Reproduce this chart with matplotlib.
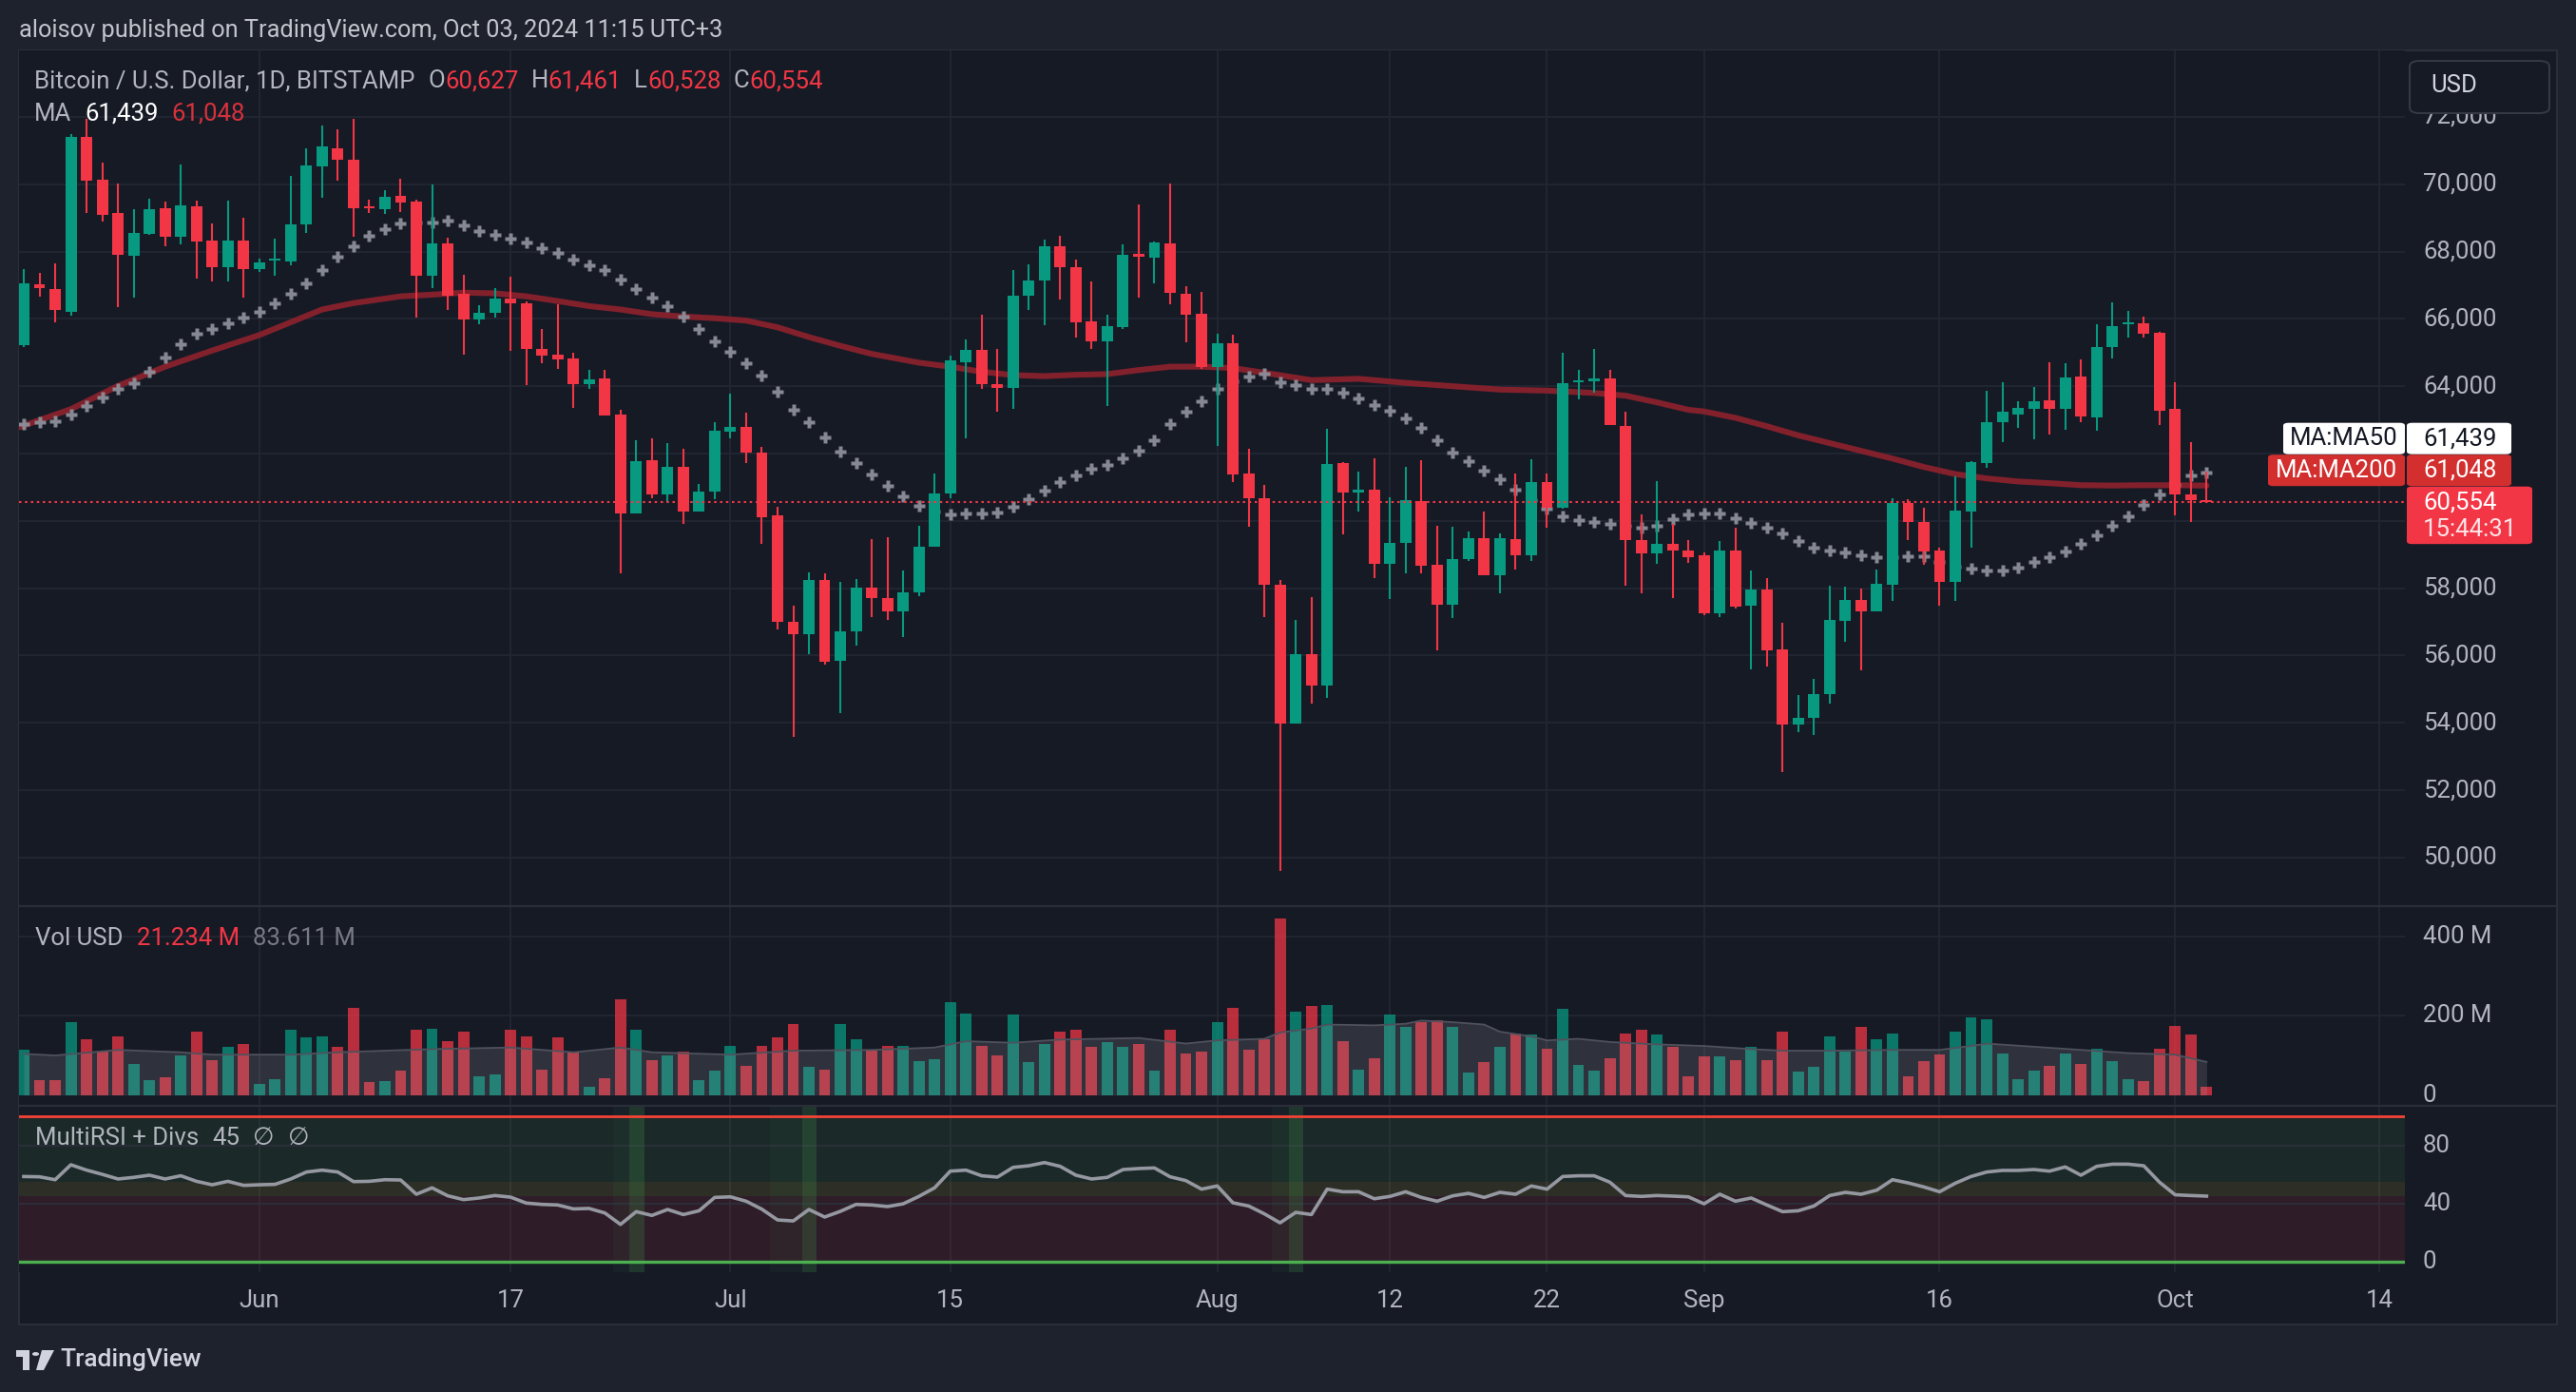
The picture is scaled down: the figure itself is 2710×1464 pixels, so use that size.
import matplotlib.pyplot as plt
import numpy as np
import pandas as pd
from matplotlib.patches import Rectangle, FancyBboxPatch, Polygon, Circle
from matplotlib.transforms import blended_transform_factory

W, H = 2710, 1464
BG = '#161a25'
OUTER = '#1e222d'
GRID = '#232733'
TXT = '#b2b5be'
UP = '#089981'
DOWN = '#f23645'
MA200_COL = '#82212c'

start_date = '2024-05-17'

# daily OHLC, BTC/USD Bitstamp, 17 May -> 3 Oct 2024
open_ = [65230, 67030, 66900, 66220, 71420, 70140, 69140, 67880, 68530, 69280,
         68450, 69340, 68320, 67540, 68320, 67490, 67730, 67720, 68800, 70520,
         71080, 70740, 69340, 69270, 69660, 69480, 67290, 68250, 66750, 65970,
         66170, 66600, 66460, 65120, 64930, 64830, 64070, 64220, 63150, 60230,
         61800, 60780, 61600, 60290, 60870, 62660, 62790, 62020, 60160, 57010,
         56620, 58250, 55830, 56720, 58020, 57710, 57310, 57870, 59230, 60810,
         64720, 65080, 64070, 63950, 66680, 67140, 68160, 67540, 65930, 65330,
         65750, 67930, 67810, 68250, 66750, 66150, 64570, 65270, 61400, 60660,
         58110, 53990, 56030, 55110, 61720, 60840, 60920, 58710, 59340, 60580,
         58700, 57520, 58870, 59480, 58390, 59460, 58990, 61150, 60400, 64110,
         64150, 64230, 62820, 59420, 59020, 59330, 59110, 58970, 57260, 59120,
         57480, 57960, 56180, 53940, 54140, 54860, 57040, 57660, 57310, 58110,
         60530, 59980, 59120, 58200, 60280, 61720, 62930, 63170, 63330, 63580,
         63330, 64290, 63080, 65150, 65830, 65860, 65590, 63320, 60790, 60627]
high = [67480, 67380, 67640, 71480, 71950, 70640, 70030, 69260, 69570, 69480,
        70580, 69510, 68840, 69510, 69000, 67790, 68390, 70250, 71070, 71740,
        71630, 71930, 69550, 69820, 70160, 69550, 69990, 68410, 67310, 66410,
        66910, 67250, 66530, 65700, 66430, 64990, 64490, 64490, 63300, 62400,
        62450, 62310, 62140, 61100, 62930, 63780, 63220, 62190, 60420, 57480,
        58470, 58440, 58180, 58270, 59460, 59510, 58530, 59850, 61400, 64910,
        65390, 66130, 65110, 67450, 67620, 68360, 68460, 67760, 67110, 66130,
        68210, 69390, 68300, 70030, 66970, 66800, 65560, 65540, 62140, 61070,
        58250, 57060, 57730, 62740, 61750, 61460, 61860, 60710, 61610, 61810,
        59850, 59830, 59680, 60280, 59630, 61400, 61820, 61410, 65000, 64490,
        65110, 64490, 63250, 60180, 61180, 59910, 59430, 59050, 59400, 59800,
        58530, 58300, 56970, 54830, 55310, 58070, 58050, 57980, 58550, 60670,
        60630, 60390, 59210, 61320, 61780, 63860, 64120, 63560, 63970, 64720,
        64680, 64790, 65840, 66490, 66240, 66080, 65620, 64110, 62330, 61461]
low = [65150, 66670, 65910, 66090, 69160, 68880, 66360, 66620, 68500, 68150,
       68220, 67200, 67100, 67100, 66620, 67390, 67290, 67600, 68560, 69610,
       70110, 68450, 69160, 69130, 69180, 66030, 66910, 66260, 64940, 65830,
       66030, 65040, 64040, 64670, 64510, 63350, 63930, 63130, 58450, 60230,
       60680, 60570, 59910, 60290, 60630, 62460, 61730, 59330, 56760, 53580,
       56050, 55740, 54300, 56290, 57140, 57060, 56550, 57770, 59230, 60680,
       62460, 63910, 63230, 63320, 66270, 65810, 66570, 65450, 65110, 63420,
       65700, 66630, 67050, 66430, 65310, 64510, 62220, 61160, 59820, 57150,
       49590, 53990, 54570, 54740, 59590, 60290, 58300, 57690, 58450, 58450,
       56140, 57100, 58820, 58390, 57850, 58560, 58820, 59790, 60350, 63600,
       63820, 62840, 58080, 57850, 58710, 57720, 58760, 57210, 57130, 57400,
       55600, 55660, 52550, 53730, 53640, 54580, 56420, 55560, 57310, 57630,
       59430, 58700, 57480, 57630, 59190, 61590, 62350, 62770, 62410, 62570,
       62720, 62930, 62690, 64830, 65460, 65450, 62860, 60160, 59980, 60528]
close = [67050, 66910, 66260, 71400, 70110, 69100, 67910, 68550, 69260, 68450,
         69370, 68300, 67540, 68320, 67470, 67690, 67760, 68800, 70560, 71120,
         70740, 69290, 69290, 69620, 69470, 67290, 68250, 66700, 65970, 66170,
         66610, 66460, 65120, 64920, 64800, 64070, 64200, 63130, 60230, 61780,
         60780, 61600, 60290, 60870, 62670, 62790, 62020, 60110, 57010, 56620,
         58250, 55800, 56720, 58020, 57710, 57310, 57870, 59230, 60810, 64770,
         65080, 64070, 63950, 66680, 67140, 68160, 67540, 65900, 65330, 65790,
         67910, 67860, 68270, 66760, 66130, 64570, 65270, 61390, 60660, 58110,
         53990, 56030, 55110, 61690, 60830, 60920, 58710, 59340, 60610, 58680,
         57520, 58870, 59480, 58390, 59480, 58990, 61150, 60400, 64090, 64150,
         64230, 62840, 59420, 59020, 59330, 59110, 58930, 57260, 59120, 57450,
         57960, 56140, 53940, 54140, 54860, 57060, 57660, 57310, 58130, 60530,
         59980, 59090, 58200, 60300, 61740, 62930, 63230, 63350, 63560, 63320,
         64260, 63100, 65150, 65780, 65860, 65560, 63280, 60790, 60610, 60554]

# MA50 (white crosses), one value per day
ma50 = [62875, 62938, 62963, 63165, 63405, 63657, 63909, 64098, 64439, 64855,
        65246, 65548, 65712, 65876, 66040, 66217, 66469, 66746, 67062, 67465,
        67856, 68159, 68474, 68676, 68827, 68865, 68877, 68915, 68789, 68613,
        68499, 68386, 68260, 68108, 67970, 67768, 67592, 67453, 67163, 66885,
        66633, 66381, 66078, 65712, 65334, 65031, 64691, 64325, 63846, 63304,
        62938, 62484, 62055, 61728, 61387, 61047, 60719, 60454, 60290, 60202,
        60227, 60227, 60252, 60429, 60656, 60908, 61160, 61362, 61551, 61665,
        61866, 62093, 62396, 62862, 63253, 63556, 63909, 64136, 64300, 64363,
        64124, 64047, 63924, 63909, 63802, 63649, 63449, 63281, 63051, 62775,
        62407, 62039, 61763, 61502, 61242, 60935, 60629, 60353, 60123, 60031,
        59969, 59923, 59862, 59800, 59850, 60046, 60184, 60227, 60214, 60088,
        59937, 59786, 59634, 59407, 59206, 59130, 59054, 58966, 58928, 58928,
        58953, 58953, 58777, 58651, 58588, 58525, 58525, 58613, 58789, 58928,
        59092, 59306, 59571, 59849, 60139, 60479, 60782, 61072, 61337, 61439]

# MA200 (red line), read at these bar indices
ma200_idx = [-0.3, 3, 6, 9, 12, 15, 17, 19, 21, 24, 26, 28, 30, 32, 34, 36, 38, 40,
             42, 44, 46, 48, 50, 52, 54, 57, 59, 61, 63, 65, 67, 69, 71, 73, 75, 77,
             79, 82, 85, 88, 91, 94, 97, 100, 102, 104, 106, 107, 109, 111, 113,
             115, 117, 119, 121, 123, 125, 127, 129, 131, 133, 135, 137, 139]
ma200 = [62780, 63320, 64010, 64580, 65060, 65520, 65900, 66280, 66470, 66670,
         66720, 66780, 66760, 66670, 66530, 66380, 66280, 66140, 66070, 66020,
         65950, 65750, 65460, 65200, 64960, 64700, 64580, 64430, 64330, 64300,
         64340, 64360, 64480, 64580, 64580, 64540, 64400, 64180, 64220, 64100,
         64000, 63900, 63870, 63800, 63720, 63520, 63300, 63250, 63060, 62810,
         62540, 62310, 62080, 61850, 61600, 61390, 61260, 61170, 61120, 61060,
         61050, 61060, 61060, 61048]

# volume, millions USD
volume = [114, 37, 37, 185, 140, 109, 149, 78, 37, 44,
          99, 159, 87, 121, 130, 28, 40, 166, 145, 147,
          121, 221, 33, 35, 61, 166, 168, 135, 159, 47,
          52, 164, 147, 64, 145, 109, 21, 42, 242, 164,
          87, 99, 109, 37, 61, 123, 73, 125, 145, 180,
          71, 64, 180, 140, 111, 123, 125, 85, 90, 235,
          206, 123, 99, 204, 83, 128, 161, 164, 121, 133,
          121, 130, 61, 164, 104, 109, 185, 221, 114, 142,
          445, 211, 225, 228, 137, 64, 92, 204, 173, 183,
          190, 173, 56, 83, 121, 156, 152, 118, 218, 75,
          61, 94, 156, 166, 152, 121, 47, 97, 97, 87,
          121, 87, 161, 59, 71, 149, 109, 173, 140, 156,
          47, 85, 102, 161, 197, 192, 106, 40, 61, 73,
          104, 78, 116, 85, 40, 35, 116, 175, 152, 21.234]

vol_ma_idx = [0, 2, 6, 10, 12, 17, 20, 26, 31, 35, 38, 40, 45, 49, 54, 58, 60, 63,
              66, 71, 74, 76, 79, 80, 82, 83, 86, 88, 89, 91, 93, 94, 96, 97, 99,
              101, 104, 107, 110, 112, 115, 119, 122, 124, 125, 128, 131, 134,
              137, 139]
vol_ma = [104, 100, 114, 108, 102, 102, 108, 116, 120, 108, 120, 108, 102, 112,
          114, 120, 136, 132, 140, 144, 130, 138, 142, 158, 168, 178, 176, 180,
          188, 184, 178, 160, 148, 138, 142, 134, 128, 124, 116, 112, 112, 114,
          114, 124, 130, 122, 114, 106, 102, 83.611]

rsi = [58.5, 58.3, 56.3, 66.6, 62.9, 60.0, 56.8, 57.9, 59.4, 56.8,
       59.0, 55.2, 52.8, 55.2, 52.4, 52.8, 53.1, 56.8, 61.6, 62.9,
       61.6, 55.0, 55.2, 56.3, 56.1, 46.3, 50.7, 45.2, 42.6, 43.7,
       45.4, 44.3, 40.2, 39.3, 38.9, 36.2, 36.5, 33.4, 25.5, 34.3,
       31.7, 35.8, 32.3, 34.9, 44.1, 44.5, 41.5, 36.0, 28.6, 27.9,
       35.8, 30.6, 34.5, 39.3, 38.9, 37.8, 39.7, 44.8, 50.7, 62.2,
       62.9, 59.0, 58.1, 64.8, 65.9, 68.1, 65.5, 59.4, 56.8, 57.9,
       63.3, 64.0, 64.4, 58.3, 55.7, 49.8, 52.0, 40.4, 38.2, 32.8,
       26.6, 33.8, 32.3, 49.8, 48.0, 48.0, 43.2, 44.8, 48.0, 44.1,
       41.5, 45.2, 46.9, 44.1, 47.6, 46.3, 52.0, 49.8, 58.5, 59.0,
       59.0, 54.6, 45.4, 44.8, 45.4, 45.0, 44.5, 39.7, 46.3, 41.5,
       43.7, 38.9, 34.3, 34.9, 38.2, 45.4, 47.6, 46.3, 49.1, 56.3,
       54.1, 51.3, 48.0, 53.9, 58.5, 61.6, 62.7, 62.7, 63.3, 62.2,
       65.1, 59.4, 65.5, 67.0, 67.0, 65.9, 54.6, 45.9, 45.4, 45.0]

# bullish divergence signals on the RSI pane: signal bar and bars covered
div_idx = [39, 50, 81]
div_len = [2, 3, 2]

tick_dates = ['2024-06-01', '2024-06-17', '2024-07-01', '2024-07-15', '2024-08-01',
              '2024-08-12', '2024-08-22', '2024-09-01', '2024-09-16', '2024-10-01',
              '2024-10-14']
price_ticks = [50000, 52000, 54000, 56000, 58000, 60000, 62000, 64000, 66000,
               68000, 70000, 72000]
vol_ticks = [0, 200, 400]
rsi_ticks = [0, 40, 80]

last_price = 60554
ma50_last = 61439
ma200_last = 61048
countdown = '15:44:31'


def rect(x0, y0, x1, y1):
    return [x0 / W, 1 - y1 / H, (x1 - x0) / W, (y1 - y0) / H]


def fy(y):
    return 1 - y / H


def clean(ax):
    ax.set_facecolor(BG)
    for s in ax.spines.values():
        s.set_visible(False)
    ax.tick_params(left=False, bottom=False, labelleft=False, labelbottom=False)


def main():
    plt.rcParams['font.family'] = ['Roboto', 'DejaVu Sans']
    fig = plt.figure(figsize=(W / 100, H / 100), dpi=100, facecolor=OUTER)
    rend = fig.canvas.get_renderer()

    def seq_text(x, y, parts, size):
        # parts: (text, colour, gap before in px)
        for s, c, g in parts:
            x += g
            t = fig.text(x / W, fy(y), s, color=c, fontsize=size, va='center', ha='left')
            x += t.get_window_extent(renderer=rend).width
        return x

    # chart panel
    fig.add_artist(Rectangle((20 / W, fy(1393)), 2670 / W, 1340 / H, transform=fig.transFigure,
                             facecolor=BG, edgecolor='#2a2e39', lw=1.5, zorder=0))

    ax_p = fig.add_axes(rect(20, 53, 2530, 953))
    ax_v = fig.add_axes(rect(20, 953, 2530, 1163), sharex=ax_p)
    ax_r = fig.add_axes(rect(20, 1163, 2530, 1338), sharex=ax_p)
    for ax in (ax_p, ax_v, ax_r):
        clean(ax)

    n = len(close)
    x = np.arange(n)
    o, h, l, c = map(np.array, (open_, high, low, close))
    up = c >= o
    col = np.where(up, UP, DOWN)

    ax_p.set_xlim(-0.303, 151.63)
    ax_p.set_ylim(48554, 73977)
    ax_v.set_ylim(-27.1, 477)
    ax_r.set_ylim(-7.4, 107.2)

    t0 = pd.Timestamp(start_date)
    tick_idx = [(pd.Timestamp(d) - t0).days for d in tick_dates]

    # grid
    for ax in (ax_p, ax_v, ax_r):
        for ti in tick_idx:
            ax.axvline(ti, color=GRID, lw=1.3, zorder=0)
    for p in price_ticks:
        ax_p.axhline(p, color=GRID, lw=1.3, zorder=0)
    for v in vol_ticks[1:]:
        ax_v.axhline(v, color=GRID, lw=1.3, zorder=0)

    # price pane
    ax_p.plot(ma200_idx, ma200, color=MA200_COL, lw=4.4, zorder=1, solid_capstyle='round')
    ax_p.plot(x, ma50, ls='none', marker='P', ms=8.8, color='#8d909a', mec='none',
              alpha=0.95, zorder=2)
    ax_p.vlines(x, l, h, colors=col, lw=1.5, zorder=3)
    body_lo = np.minimum(o, c)
    body_h = np.maximum(np.abs(c - o), 55)
    ax_p.bar(x, body_h, bottom=body_lo, width=0.72, color=col, lw=0, zorder=4)
    ax_p.axhline(last_price, color=DOWN, lw=1.5, ls=(0, (1.2, 1.8)), zorder=5)

    # volume pane
    ax_v.bar(x, volume, width=0.72, color=col, alpha=0.74, lw=0, zorder=2)
    ax_v.fill_between(vol_ma_idx, 0, vol_ma, color='#b2b5be', alpha=0.16, lw=0, zorder=3)
    ax_v.plot(vol_ma_idx, vol_ma, color='#4f525d', lw=1.3, zorder=3)

    # rsi pane
    ax_r.axhspan(55, 100, color='#4caf50', alpha=0.10, lw=0, zorder=0)
    ax_r.axhspan(45, 55, color='#ffeb3b', alpha=0.10, lw=0, zorder=0)
    ax_r.axhspan(0, 45, color='#f23645', alpha=0.11, lw=0, zorder=0)
    for v in rsi_ticks[1:]:
        ax_r.axhline(v, color='#2b2f3a', lw=1.3, zorder=1)
    for di, dl in zip(div_idx, div_len):
        ax_r.axvspan(di - dl + 0.5, di + 0.5, color='#4caf50', alpha=0.05, lw=0, zorder=1)
        ax_r.axvspan(di - 0.45, di + 0.5, color='#4caf50', alpha=0.16, lw=0, zorder=1)
    ax_r.axhline(100, color='#f44336', lw=2, zorder=2)
    ax_r.axhline(0, color='#4caf50', lw=2.4, zorder=2)
    ax_r.plot(x, rsi, color='#9598a1', lw=2.6, zorder=3, solid_joinstyle='round')

    # pane dividers
    for yy in (953, 1163):
        fig.add_artist(plt.Line2D([20 / W, 2690 / W], [fy(yy), fy(yy)], color='#2a2e39', lw=1.6))

    # price-scale labels (stacked above the last price)
    yp = H - ax_p.transData.transform((0, last_price))[1]
    top_p = yp - 16.5
    box_top, box_bot = top_p - 67, top_p + 60.5

    # right scales; price ticks hidden behind the value labels are not drawn
    lab_x = (2549 - 20) / 2510
    for ax, ticks, fmt in ((ax_p, price_ticks, lambda v: f'{v:,}'),
                           (ax_v, vol_ticks, lambda v: '0' if v == 0 else f'{v} M'),
                           (ax_r, rsi_ticks, lambda v: f'{v}')):
        tr = blended_transform_factory(ax.transAxes, ax.transData)
        for v in ticks:
            if ax is ax_p:
                ty = H - ax.transData.transform((0, v))[1]
                if box_top - 10 < ty < box_bot + 10:
                    continue
            ax.text(lab_x, v, fmt(v), transform=tr, color=TXT, fontsize=18.5,
                    va='center', ha='left', clip_on=False, zorder=1)

    # x axis labels
    for ti, d in zip(tick_idx, tick_dates):
        ts = pd.Timestamp(d)
        lab = ts.strftime('%b') if ts.day == 1 else str(ts.day)
        px = ax_p.transData.transform((ti, 0))[0]
        fig.text(px / W, fy(1368), lab, color=TXT, fontsize=18.5, ha='center', va='center')

    boxes = [
        (2532, top_p, 2664, box_bot, DOWN),
        (2532, top_p - 33.5, 2642, top_p - 0.5, '#d32f2f'),
        (2386, top_p - 33.5, 2530, top_p - 0.5, '#d32f2f'),
        (2532, box_top, 2642, top_p - 34, '#ffffff'),
        (2402, box_top, 2530, top_p - 34, '#ffffff'),
    ]
    for x0, y0, x1, y1, fc in boxes:
        fig.add_artist(FancyBboxPatch((x0 / W, fy(y1)), (x1 - x0) / W, (y1 - y0) / H,
                                      boxstyle='round,pad=0,rounding_size=0.002',
                                      transform=fig.transFigure, facecolor=fc, lw=0, zorder=6))
    fs = 18.5
    fig.text(2549 / W, fy(yp), f'{last_price:,}', color='white', fontsize=fs, va='center', zorder=7)
    fig.text(2549 / W, fy(yp + 29), countdown, color='#ffe3e6', fontsize=fs, va='center', zorder=7)
    fig.text(2549 / W, fy(top_p - 17), f'{ma200_last:,}', color='white', fontsize=fs, va='center', zorder=7)
    fig.text(2458 / W, fy(top_p - 17), 'MA:MA200', color='white', fontsize=fs, va='center', ha='center', zorder=7)
    fig.text(2549 / W, fy(top_p - 50.5), f'{ma50_last:,}', color='#131722', fontsize=fs, va='center', zorder=7)
    fig.text(2466 / W, fy(top_p - 50.5), 'MA:MA50', color='#131722', fontsize=fs, va='center', ha='center', zorder=7)

    # currency box (partly covers the top price label, as in the app)
    fig.add_artist(FancyBboxPatch((2535 / W, fy(119)), 147 / W, 55 / H,
                                  boxstyle='round,pad=0,rounding_size=0.004',
                                  transform=fig.transFigure, facecolor=BG, edgecolor='#363a45',
                                  lw=1.4, zorder=6))
    fig.text(2557 / W, fy(90), 'USD', color='#d1d4dc', fontsize=18.5, va='center', zorder=7)

    # legends
    fig.text(20 / W, fy(32), 'aloisov published on TradingView.com, Oct 03, 2024 11:15 UTC+3',
             color='#c2c4cb', fontsize=18.3, va='center')
    seq_text(36, 85, [('Bitcoin / U.S. Dollar, 1D, BITSTAMP', TXT, 0),
                      ('O', TXT, 14), (f'{open_[-1]:,}', DOWN, 0),
                      ('H', TXT, 13), (f'{high[-1]:,}', DOWN, 0),
                      ('L', TXT, 13), (f'{low[-1]:,}', DOWN, 0),
                      ('C', TXT, 13), (f'{close[-1]:,}', DOWN, 0)], 18.5)
    seq_text(36, 120, [('MA', TXT, 0), (f'{ma50_last:,}', '#ffffff', 14),
                       (f'{ma200_last:,}', '#d8313c', 14)], 18.5)
    seq_text(37, 987, [('Vol USD', TXT, 0), (f'{volume[-1]:.3f} M', DOWN, 14),
                       (f'{vol_ma[-1]:.3f} M', '#787b86', 14)], 18.5)
    seq_text(37, 1197, [('MultiRSI + Divs', TXT, 0), ('45', TXT, 14),
                        ('\u2205', TXT, 14), ('\u2205', TXT, 14)], 18.5)

    # TradingView logo
    lc = '#d1d4dc'
    fig.add_artist(Polygon([(17 / W, fy(1420)), (31 / W, fy(1420)), (31 / W, fy(1441)),
                            (24 / W, fy(1441)), (24 / W, fy(1427)), (17 / W, fy(1427))],
                           closed=True, transform=fig.transFigure, facecolor=lc, lw=0))
    fig.add_artist(Circle((37.5 / W, fy(1424)), 3.6 / W, transform=fig.transFigure,
                          facecolor=lc, lw=0))
    fig.add_artist(Polygon([(44 / W, fy(1420)), (57 / W, fy(1420)), (46 / W, fy(1441)),
                            (38 / W, fy(1441))], closed=True, transform=fig.transFigure,
                           facecolor=lc, lw=0))
    fig.text(63 / W, fy(1430), 'TradingView', color=lc, fontsize=19, va='center',
             fontweight='medium')

    fig.savefig('out.png', dpi=100, facecolor=OUTER)


if __name__ == '__main__':
    main()
